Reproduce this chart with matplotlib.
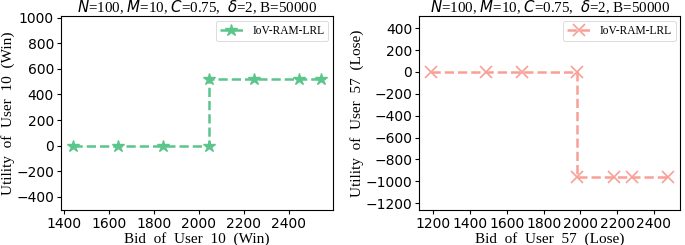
import matplotlib
matplotlib.use("Agg")
import matplotlib.pyplot as plt

# ─── DATA ────────────────────────────────────────────────────
bid_win = [1443, 1643, 1843, 2043, 2043, 2243, 2443, 2540]
util_win = [0, 0, 0, 0, 520, 520, 520, 520]

bid_lose = [1188, 1485, 1685, 1982, 1982, 2182, 2282, 2478]
util_lose = [0, 0, 0, 0, -965, -965, -965, -965]

TITLE = r"$N$=100, $M$=10, $C$=0.75,  $\delta$=2, B=50000"
LEGEND = "IoV-RAM-LRL"

GREEN = "#5cc58c"
SALMON = "#f8a097"
SERIF = "Liberation Serif"

plt.rcParams["mathtext.fontset"] = "dejavusans"

fig = plt.figure(figsize=(6.85, 2.45), dpi=100)
ax1 = fig.add_axes([0.089, 0.143, 0.397, 0.79])
ax2 = fig.add_axes([0.612, 0.143, 0.381, 0.79])


def style(ax, xlabel, ylabel):
    ax.set_title(TITLE, fontsize=10.8, family=SERIF, pad=1)
    ax.set_xlabel(xlabel, fontsize=11, family=SERIF, labelpad=1)
    ax.set_ylabel(ylabel, fontsize=11, family=SERIF, labelpad=1)
    ax.tick_params(labelsize=10, length=3, pad=2)
    leg = ax.legend(loc="upper right", prop={"family": SERIF, "size": 8.3},
                    handlelength=2.0, borderpad=0.35, handletextpad=0.8,
                    borderaxespad=0.4)
    leg.get_frame().set_linewidth(0.6)


# Gagnant
ax1.plot(bid_win, util_win, linestyle="--", color=GREEN, marker="*",
         markersize=9, linewidth=1.8, label=LEGEND)
ax1.set_ylim(-505, 1012)
ax1.set_yticks(range(-400, 1001, 200))
ax1.set_xticks(range(1400, 2401, 200))
style(ax1, "Bid  of  User  10  (Win)", "Utility  of  User  10  (Win)")

# Perdant
ax2.plot(bid_lose, util_lose, linestyle="--", color=SALMON, marker="x",
         markersize=8, markeredgewidth=1.2, linewidth=1.8, label=LEGEND)
ax2.set_ylim(-1262, 508)
ax2.set_yticks(range(-1200, 401, 200))
ax2.set_xticks(range(1200, 2401, 200))
style(ax2, "Bid  of  User  57  (Lose)", "Utility  of  User  57  (Lose)")

fig.savefig("out.png", dpi=100)
